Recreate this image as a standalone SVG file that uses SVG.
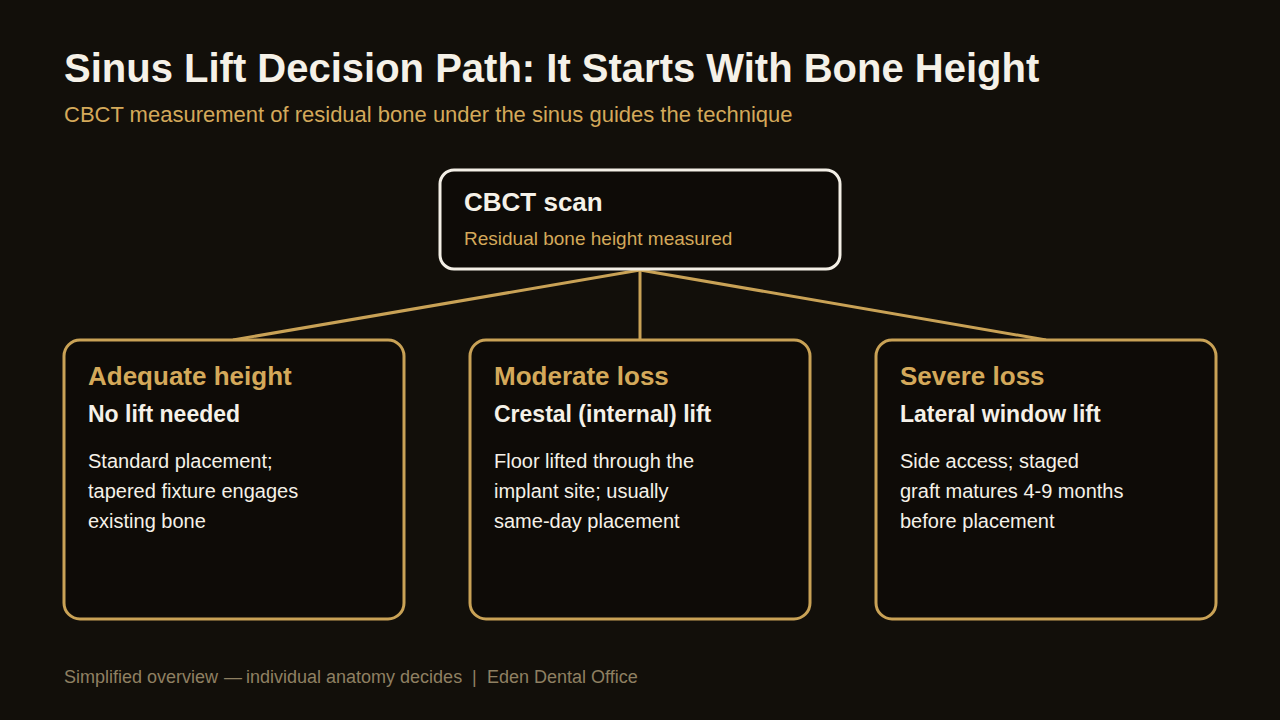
<svg xmlns="http://www.w3.org/2000/svg" width="1280" height="720" viewBox="0 0 1280 720">
  <style>
    text { font-family: "Liberation Sans", Arial, sans-serif; }
    .title { font-size: 40px; font-weight: bold; fill: #f5f1e8; }
    .subtitle { font-size: 22px; fill: #d4a95a; }
    .box { fill: #0e0b07; stroke-width: 3; }
    .root { stroke: #f3efe6; }
    .leaf { stroke: #c9a256; }
    .h1 { font-size: 26px; font-weight: bold; fill: #f5f1e8; }
    .h2 { font-size: 26px; font-weight: bold; fill: #d4a95a; }
    .h3 { font-size: 23px; font-weight: bold; fill: #f5f1e8; }
    .meta { font-size: 19px; fill: #d4a95a; }
    .body { font-size: 20px; fill: #f5f1e8; }
    .foot { font-size: 18px; fill: #8f8062; }
    .conn { stroke: #c9a256; stroke-width: 3; fill: none; }
  </style>
  <rect width="1280" height="720" fill="#120f0a"/>
  <text class="title" x="64" y="82">Sinus Lift Decision Path: It Starts With Bone Height</text>
  <text class="subtitle" x="64" y="122">CBCT measurement of residual bone under the sinus guides the technique</text>

  <g id="connectors">
    <line class="conn" x1="640" y1="270" x2="233" y2="340"/>
    <line class="conn" x1="640" y1="270" x2="640" y2="340"/>
    <line class="conn" x1="640" y1="270" x2="1046" y2="340"/>
  </g>

  <g id="cbct">
    <rect class="box root" x="440" y="170" width="400" height="99" rx="14"/>
    <text class="h1" x="464" y="211">CBCT scan</text>
    <text class="meta" x="464" y="245">Residual bone height measured</text>
  </g>

  <g id="adequate">
    <rect class="box leaf" x="64" y="340" width="340" height="279" rx="16"/>
    <text class="h2" x="88" y="385">Adequate height</text>
    <text class="h3" x="88" y="422">No lift needed</text>
    <text class="body" x="88" y="468">Standard placement;</text>
    <text class="body" x="88" y="498">tapered fixture engages</text>
    <text class="body" x="88" y="528">existing bone</text>
  </g>

  <g id="moderate">
    <rect class="box leaf" x="470" y="340" width="340" height="279" rx="16"/>
    <text class="h2" x="494" y="385">Moderate loss</text>
    <text class="h3" x="494" y="422">Crestal (internal) lift</text>
    <text class="body" x="494" y="468">Floor lifted through the</text>
    <text class="body" x="494" y="498">implant site; usually</text>
    <text class="body" x="494" y="528">same-day placement</text>
  </g>

  <g id="severe">
    <rect class="box leaf" x="876" y="340" width="340" height="279" rx="16"/>
    <text class="h2" x="900" y="385">Severe loss</text>
    <text class="h3" x="900" y="422">Lateral window lift</text>
    <text class="body" x="900" y="468">Side access; staged</text>
    <text class="body" x="900" y="498">graft matures 4-9 months</text>
    <text class="body" x="900" y="528">before placement</text>
  </g>

  <g id="footer">
    <text class="foot" x="64" y="683">Simplified overview</text>
    <text class="foot" x="224" y="683">—</text>
    <text class="foot" x="246" y="683">individual anatomy decides</text>
    <text class="foot" x="472" y="683">|</text>
    <text class="foot" x="487" y="683">Eden Dental Office</text>
  </g>
</svg>
